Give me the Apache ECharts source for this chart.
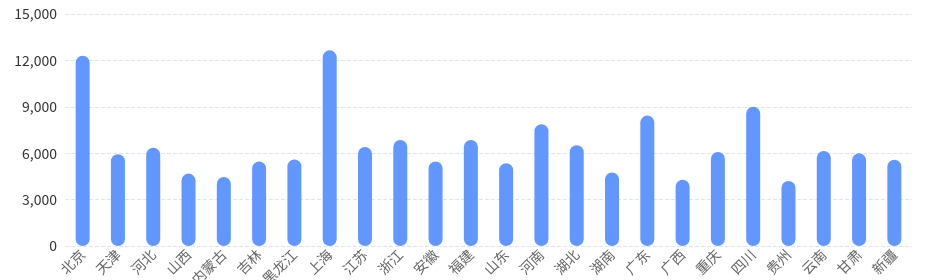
<!DOCTYPE html>
<html><head><meta charset="utf-8">
<script src="https://cdn.jsdelivr.net/npm/echarts@6/dist/echarts.min.js"></script>
<style>html,body{margin:0;padding:0;background:#fff}#c{width:930px;height:280px}</style>
</head><body><div id="c"></div>
<script>
const categories = ['北京','天津','河北','山西','内蒙古','吉林','黑龙江','上海','江苏','浙江','安徽','福建','山东','河南','湖北','湖南','广东','广西','重庆','四川','贵州','云南','甘肃','新疆'];
const values = [12300,5930,6360,4680,4460,5470,5600,12650,6400,6850,5470,6850,5350,7870,6510,4760,8430,4290,6080,9010,4200,6140,5990,5580];
const yTicks = {min:0, max:15000, interval:3000};

const chart = echarts.init(document.getElementById('c'));
chart.setOption({
  animation:false,
  grid:{left:65, right:18, top:14, bottom:34, containLabel:false, outerBoundsMode:'none'},
  xAxis:{type:'category', data:categories,
    axisLine:{show:false}, axisTick:{show:false},
    axisLabel:{rotate:45, color:'#666', fontSize:14, fontFamily:'Noto Sans CJK SC', interval:0, margin:6}},
  yAxis:{type:'value', min:yTicks.min, max:yTicks.max, interval:yTicks.interval,
    axisLine:{show:false}, axisTick:{show:false},
    axisLabel:{color:'#333', fontSize:14, fontFamily:'Noto Sans CJK SC', margin:8,
      formatter:v=>v.toLocaleString('en-US')},
    splitLine:{lineStyle:{type:'dashed', color:'#dfe5f0'}}},
  series:[{type:'bar', data:values, barWidth:14,
    itemStyle:{color:'#6197ff', borderRadius:7}}]
});
</script></body></html>
